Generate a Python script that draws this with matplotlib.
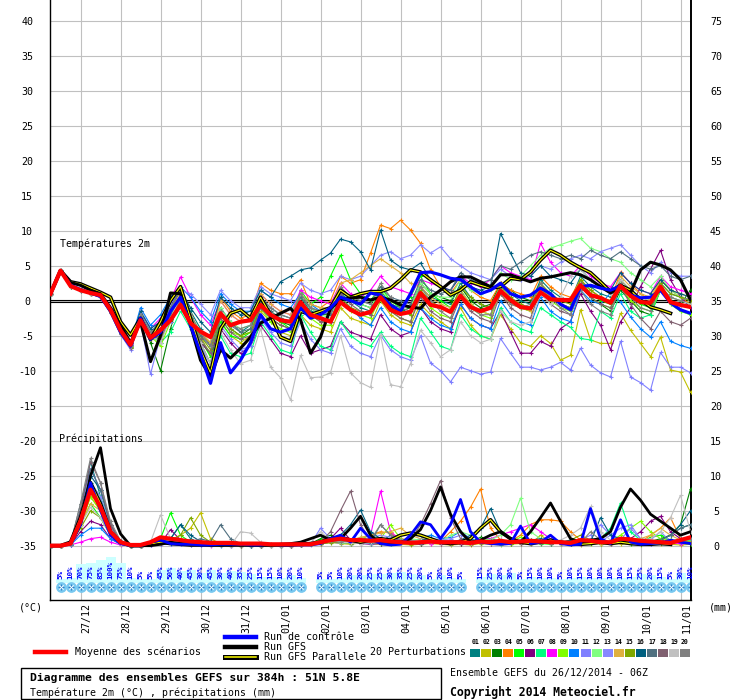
import matplotlib
matplotlib.use('Agg')
import matplotlib.pyplot as plt
import matplotlib.transforms as mtrans
from matplotlib.patches import Rectangle
from matplotlib.lines import Line2D
import numpy as np

plt.rcParams['font.family'] = ['DejaVu Sans Mono', 'DejaVu Sans']

# 6-hourly steps from 26/12/2014 06Z (0..384h)
steps = np.arange(65)
day_idx = [3 + 4 * k for k in range(16)]
day_labels = ['27/12', '28/12', '29/12', '30/12', '31/12', '01/01', '02/01', '03/01',
              '04/01', '05/01', '06/01', '07/01', '08/01', '09/01', '10/01', '11/01']

# snow probability (%) for steps 1..64
snow_pct = [5, 10, 70, 75, 85, 100, 75, 10, 5, 5, 45, 50, 40, 45, 30, 45,
            30, 40, 35, 25, 15, 15, 10, 20, 10, 0, 5, 5, 10, 20, 20, 25,
            25, 30, 35, 25, 20, 5, 20, 10, 5, 0, 15, 25, 20, 30, 5, 15,
            10, 10, 5, 10, 15, 10, 10, 10, 10, 15, 25, 20, 15, 5, 30, 10]

pert_names = ['01', '02', '03', '04', '05', '06', '07', '08', '09', '10',
              '11', '12', '13', '14', '15', '16', '17', '18', '19', '20']
pert_colors = ['#008080', '#c0c000', '#008000', '#ff8000', '#00ff00', '#800080', '#00ff80',
               '#ff00ff', '#80ff00', '#0080ff', '#8080ff', '#80ff80', '#8888ff', '#e0b040',
               '#80a800', '#006080', '#507080', '#806070', '#c0c0c0', '#808080']

# temperature 2m (degC)
mean_t = [1.0, 4.3, 2.1, 1.5, 1.1, 0.8, -1.3, -4.2, -6.3,
          -2.8, -5.3, -4.2, -2.8, -0.6, -3.2, -4.4, -5.2,
          -1.8, -3.5, -3.0, -2.8, -0.6, -2.0, -2.8, -3.0,
          -0.2, -2.0, -2.5, -3.0, -0.2, -1.3, -2.0, -1.6,
          0.5, -1.3, -1.9, -1.6, 1.1, -0.6, -0.9, -1.6,
          0.7, -0.9, -1.5, -1.0, 1.4, 0.1, -0.9, -1.1,
          1.2, 0.2, 0.1, 0.1, 2.2, 0.8, 0.4, -0.3,
          2.1, 0.7, -0.2, -0.3, 2.0, -0.2, -0.6, -0.9]
ctrl_t = [1.0, 4.3, 2.2, 1.6, 1.1, 0.6, -1.5, -4.5, -6.5,
          -2.5, -5.5, -4.5, -1.5, 0.5, -3.5, -7.5, -11.8,
          -6.0, -10.3, -8.5, -6.0, -2.0, -4.0, -4.5, -4.0,
          -1.0, -2.5, -2.0, -1.0, 0.5, 0.0, -0.5, 1.1,
          0.8, -0.6, -1.5, 1.0, 4.0, 4.1, 3.7, 3.2,
          3.0, 2.0, 1.0, 1.5, 2.5, 1.0, 0.5, 0.8,
          1.8, 1.0, -0.5, -1.3, 2.0, 2.2, 1.8, 1.5,
          2.1, 0.8, 0.4, 0.5, 1.5, -0.3, -1.3, -1.8]
gfs_t = [1.0, 4.3, 2.6, 2.2, 1.5, 1.0, -1.0, -3.5, -6.0,
         -3.0, -8.7, -5.0, 1.1, 1.0, -3.5, -8.5, -10.9,
         -7.0, -8.2, -6.8, -5.2, -3.2, -2.5, -1.8, -1.1,
         -2.7, -7.5, -5.2, -1.1, 0.1, 0.4, 0.5, 0.1,
         0.5, 0.1, -0.6, -0.9, -1.1, 0.5, 1.5, 2.7,
         3.4, 3.4, 2.7, 2.0, 3.7, 3.7, 3.2, 2.7,
         3.2, 3.4, 3.7, 4.0, 3.7, 3.0, 2.0, 1.1,
         2.0, 1.1, 4.4, 5.5, 5.1, 4.4, 3.0, 0.1]
gfsp_t = [1.0, 4.3, 2.7, 2.4, 1.8, 1.2, 0.5, -3.0, -4.9,
          -2.5, -5.5, -3.0, 0.0, 2.0, -2.5, -7.0, -10.3,
          -4.0, -1.8, -1.3, -2.5, 0.5, -2.0, -5.2, -5.8,
          -1.5, -2.0, -1.5, -1.0, 1.5, 0.5, 1.0, 1.3,
          1.3, 1.8, 3.0, 4.4, 4.1, 3.0, 2.0, 0.8,
          1.5, 2.7, 2.2, 1.8, 2.0, 3.2, 3.0, 4.1,
          5.8, 7.2, 6.5, 5.5, 4.7, 4.0, 2.7, 1.3,
          2.2, 1.5, 0.1, -0.9, -1.3, -1.8, np.nan, np.nan]

t01 = [1.0, 4.4, 2.3, 1.6, 1.2, 0.8, -1.2, -4.0, -6.2,
       -2.0, -4.5, -3.0, -1.0, 1.5, -1.5, -4.0, -6.5,
       -1.0, -3.0, -4.5, -3.5, 0.5, -1.0, -2.0, -2.5,
       0.5, -1.5, -2.5, -3.0, 1.0, 0.0, -1.0, -1.5,
       1.5, -0.5, -1.0, -2.0, 2.0, 0.5, 0.0, -0.5,
       2.5, 0.5, -0.5, -1.0, 2.0, 1.0, 0.0, -0.5,
       3.0, 1.5, 0.5, 0.0, 3.5, 2.0, 1.0, 0.5,
       3.0, 1.5, 0.0, -0.5, 2.5, 1.0, 0.5, 0.0]
t02 = [1.0, 4.2, 2.0, 1.4, 1.0, 0.5, -1.8, -4.8, -6.8,
       -3.0, -5.5, -4.0, -2.5, 0.5, -2.0, -5.0, -8.0,
       -3.0, -5.0, -6.0, -5.0, -1.5, -3.0, -4.5, -5.0,
       -2.0, -3.5, -4.0, -4.5, -1.0, -2.5, -3.0, -3.5,
       0.0, -2.0, -3.0, -3.5, -0.5, -2.0, -3.0, -4.0,
       -1.0, -3.5, -5.0, -5.5, -2.0, -4.0, -6.0, -6.5,
       -5.0, -6.1, -8.5, -7.8, -1.3, -5.6, -6.1, -6.1,
       -1.8, -4.2, -6.1, -8.0, -5.2, -9.9, -10.2, -13.1]
t03 = [1.0, 4.3, 2.2, 1.5, 1.0, 0.6, -1.5, -4.4, -6.5,
       -2.5, -6.0, -10.0, -4.0, 1.0, -3.0, -6.0, -9.0,
       -2.0, -4.0, -5.0, -4.0, 0.0, -2.0, -3.0, -3.5,
       0.5, -1.0, -2.0, -2.0, 1.5, 0.5, -0.5, -1.0,
       1.0, -1.0, -1.5, -1.0, 2.5, 1.0, 0.5, 0.0,
       2.0, 0.0, -1.0, -0.5, 2.5, 1.5, 0.5, 0.0,
       2.5, 0.5, -0.5, -1.0, 2.0, 0.5, -0.5, -1.5,
       1.5, 0.0, -1.5, -2.0, 1.5, 0.0, -0.5, 1.5]
t04 = [1.0, 4.3, 2.1, 1.6, 1.2, 0.7, -1.2, -4.2, -6.0,
       -2.0, -4.5, -3.5, -1.5, 1.5, -2.5, -5.0, -6.0,
       0.5, -1.5, -2.5, -2.0, 2.5, 1.5, 1.0, 1.0,
       3.0, -0.5, -1.0, 0.0, 3.5, 2.5, 3.0, 6.8,
       10.8, 10.3, 11.5, 10.1, 8.2, 4.4, 2.0, 1.0,
       3.0, 1.5, 0.5, 0.0, 2.5, 1.5, 1.0, 0.5,
       3.5, 2.0, 1.0, 0.5, 3.0, 1.5, 0.5, 0.0,
       4.1, 2.5, 1.0, 0.0, 3.0, 1.5, 0.5, -0.5]
t05 = [1.0, 4.3, 2.0, 1.5, 1.1, 0.6, -1.6, -4.6, -6.6,
       -2.5, -5.0, -6.0, -2.0, 0.5, -2.5, -5.5, -8.0,
       -3.0, -5.0, -5.5, -4.5, -0.5, -2.0, -3.0, -4.0,
       1.5, -0.5, 0.5, 3.5, 6.5, 3.0, 1.0, 0.0,
       2.0, 0.0, -1.0, 0.5, 3.5, 1.0, 0.0, -1.0,
       1.5, -0.5, -1.5, -2.0, 1.0, 0.0, -1.0, -1.5,
       2.0, 0.5, -0.5, -1.0, 3.0, 1.0, 0.0, -0.5,
       2.5, 0.5, -0.5, -1.0, 2.0, 0.5, 0.0, -0.5]
t06 = [1.0, 4.3, 2.2, 1.5, 1.0, 0.5, -1.5, -4.5, -6.5,
       -3.0, -5.5, -5.0, -3.0, -0.5, -3.5, -6.0, -7.5,
       -4.0, -6.0, -7.5, -6.5, -3.5, -5.5, -7.5, -8.0,
       -5.0, -7.5, -7.0, -6.5, -3.0, -4.5, -5.0, -5.5,
       -2.0, -4.0, -5.0, -4.5, -1.0, -3.0, -4.0, -4.5,
       -0.5, -2.5, -3.5, -4.0, -1.5, -4.5, -7.5, -7.5,
       -5.8, -6.5, -4.0, -3.0, 1.0, -1.5, -3.5, -7.0,
       -3.0, -1.0, 2.0, 4.5, 7.2, 3.0, 0.5, -1.0]
t07 = [1.0, 4.3, 2.0, 1.4, 1.0, 0.6, -1.4, -4.3, -6.4,
       -1.5, -4.0, -6.0, -4.5, -1.5, -4.0, -7.0, -10.0,
       -5.0, -7.5, -8.0, -7.5, -3.0, -5.0, -7.0, -7.5,
       -2.0, -4.5, -6.5, -7.0, -3.0, -5.0, -6.0, -6.5,
       -4.5, -6.5, -7.5, -8.0, -2.5, -4.5, -6.5, -7.0,
       -2.0, -4.0, -5.0, -5.5, -1.0, -3.0, -4.0, -4.5,
       -1.0, -2.0, -3.0, -3.8, -5.4, -5.6, -1.5, -2.5,
       1.0, -1.5, -2.5, -2.0, 1.5, -0.5, -1.5, -2.0]
t08 = [1.0, 4.3, 2.1, 1.5, 1.1, 0.7, -1.3, -4.2, -6.2,
       -1.5, -4.0, -2.5, 0.0, 3.4, 0.5, -2.0, -3.5,
       0.0, -2.0, -3.0, -2.5, 1.0, -0.5, -1.5, -2.0,
       1.5, 0.5, 0.0, -0.5, 2.5, 1.0, 0.5, 1.5,
       3.5, 2.0, 1.5, 1.0, 3.0, 2.5, 2.0, 1.5,
       3.5, 2.5, 2.0, 3.0, 5.0, 4.0, 3.5, 3.0,
       8.2, 5.5, 4.0, 3.5, 5.0, 3.5, 2.5, 2.0,
       4.0, 2.5, 1.5, 1.0, 3.5, 2.0, 1.5, 1.0]
t09 = [1.0, 4.3, 2.0, 1.5, 1.0, 0.5, -1.6, -4.6, -6.8,
       -2.0, -5.0, -6.5, -3.0, 0.0, -3.0, -5.5, -7.5,
       -2.5, -4.5, -5.0, -4.5, -1.0, -3.0, -4.0, -4.5,
       -1.0, -2.5, -3.5, -3.5, 0.0, -1.5, -2.0, -2.5,
       0.5, -1.5, -2.5, -3.0, 1.0, -1.0, -2.0, -2.5,
       1.0, -1.0, -2.0, -2.5, 1.5, 0.0, -1.0, -1.5,
       2.0, 0.0, -1.0, -1.5, 2.5, 0.5, -0.5, -1.0,
       2.0, 0.0, -1.0, -1.5, 1.5, -0.5, -1.5, -2.0]
t10 = [1.0, 4.3, 2.2, 1.6, 1.2, 0.7, -1.2, -4.0, -6.0,
       -1.0, -3.5, -2.0, 0.5, 2.0, 0.5, -1.5, -3.0,
       1.0, -0.5, -1.5, -1.5, 1.5, 0.5, -0.5, -1.0,
       1.0, -0.5, -1.5, -2.0, 0.5, -1.0, -2.5, -3.5,
       -1.0, -3.0, -4.0, -4.5, -1.0, -2.5, -3.5, -4.0,
       -0.5, -2.5, -3.5, -4.0, 0.0, -2.0, -3.0, -3.5,
       0.5, -1.5, -2.5, -3.0, 1.5, 0.0, -0.5, 1.1,
       -0.2, -2.3, -4.0, -5.2, -3.0, -5.8, -6.4, -6.8]
t11 = [1.0, 4.3, 2.0, 1.4, 1.0, 0.5, -1.8, -4.8, -7.0,
       -3.0, -10.5, -5.0, -3.0, -1.0, -3.5, -6.5, -9.0,
       -3.5, -5.5, -7.0, -6.5, -2.5, -4.5, -6.0, -6.5,
       -3.0, -5.5, -7.0, -7.5, -4.0, -6.5, -7.5, -8.0,
       -4.9, -7.0, -8.0, -8.5, -5.0, -8.9, -10.0, -11.6,
       -9.5, -10.0, -10.5, -10.2, -5.4, -7.5, -9.5, -9.5,
       -9.9, -9.5, -8.8, -9.9, -6.8, -9.2, -10.3, -10.9,
       -5.8, -10.9, -11.7, -12.8, -7.4, -9.5, -9.5, -10.3]
t12 = [1.0, 4.3, 2.1, 1.5, 1.1, 0.6, -1.4, -4.4, -6.4,
       -2.0, -4.5, -4.0, -1.5, 1.0, -2.0, -4.5, -6.0,
       -1.0, -3.0, -4.0, -3.5, 0.0, -1.5, -2.5, -3.0,
       0.5, -1.0, -2.0, -2.5, 1.5, 0.0, -0.5, -1.0,
       1.5, 0.0, -0.5, -1.0, 2.5, 1.0, 0.5, 0.5,
       3.0, 1.5, 1.0, 1.5, 4.0, 3.0, 3.5, 5.0,
       6.5, 7.5, 8.0, 8.5, 8.9, 7.5, 7.0, 6.0,
       5.5, 4.0, 3.0, 2.0, 3.5, 1.5, 0.5, 0.0]
t13 = [1.0, 4.3, 2.2, 1.6, 1.1, 0.6, -1.3, -4.2, -6.3,
       -1.5, -4.0, -3.0, -0.5, 1.5, 1.0, -0.5, -2.0,
       1.5, 0.0, -1.0, -1.0, 2.0, 1.0, 0.5, 0.0,
       2.5, 1.5, 1.0, 1.5, 3.5, 3.0, 3.5, 5.0,
       6.5, 7.0, 6.0, 6.5, 8.0, 6.8, 7.7, 6.0,
       5.0, 4.0, 3.5, 3.0, 4.5, 3.5, 3.0, 3.5,
       5.0, 4.5, 5.5, 6.0, 6.5, 6.0, 7.0, 7.5,
       8.0, 6.5, 5.0, 4.0, 5.5, 4.0, 3.5, 3.5]
t14 = [1.0, 4.3, 2.1, 1.5, 1.0, 0.6, -1.5, -4.5, -6.5,
       -2.0, -4.5, -4.0, -1.5, 1.0, -2.0, -4.5, -6.0,
       0.0, -2.0, -3.0, -2.5, 1.0, -0.5, -1.5, -2.0,
       1.0, -0.5, -1.0, -1.0, 2.5, 3.0, 4.0, 5.0,
       6.0, 5.0, 4.0, 2.5, 2.0, 0.5, -0.5, -1.0,
       1.5, -0.5, -1.5, -2.0, 1.0, -0.5, -1.0, -1.5,
       2.0, 0.5, -0.5, -1.0, 3.0, 1.5, 0.5, 0.0,
       3.5, 2.0, 1.0, 0.5, 3.0, 1.5, 1.0, 0.5]
t15 = [1.0, 4.3, 2.0, 1.5, 1.0, 0.5, -1.6, -4.6, -6.6,
       -2.5, -5.5, -5.0, -2.0, 0.5, -2.5, -5.0, -7.0,
       -2.0, -4.0, -5.0, -4.5, -1.0, -2.5, -3.5, -4.0,
       -0.5, -2.0, -3.0, -3.0, 0.5, -1.0, -1.5, -2.0,
       1.0, -0.5, -1.5, -2.0, 1.5, 0.0, -1.0, -1.5,
       2.0, 0.5, -0.5, -1.0, 2.0, 0.5, -0.5, -1.0,
       2.5, 1.0, 0.0, -0.5, 3.0, 1.5, 0.5, 0.0,
       3.0, 1.5, 0.5, 0.0, 2.5, 1.0, 0.5, 0.0]
t16 = [1.0, 4.3, 2.2, 1.6, 1.2, 0.7, -1.2, -4.0, -6.0,
       -1.5, -4.0, -3.0, -1.0, 1.5, -1.0, -3.0, -4.5,
       0.5, -1.0, -2.0, -1.5, 1.5, 0.5, 2.7, 3.5,
       4.4, 4.7, 5.8, 6.8, 8.8, 8.4, 7.0, 4.4,
       10.1, 5.8, 4.8, 4.4, 5.4, 3.0, 2.0, 1.5,
       3.5, 2.0, 1.5, 2.0, 9.6, 6.8, 4.0, 3.5,
       5.0, 3.5, 3.0, 2.5, 4.5, 3.0, 2.0, 1.5,
       4.0, 2.5, 1.5, 1.0, 3.0, 1.5, 1.0, 0.5]
t17 = [1.0, 4.3, 2.1, 1.5, 1.1, 0.6, -1.4, -4.4, -6.4,
       -2.0, -4.5, -4.5, -2.0, 0.5, -2.5, -5.0, -6.5,
       -1.5, -3.5, -4.5, -4.0, 0.0, -1.5, -2.5, -3.0,
       0.5, -1.0, -1.5, -2.0, 1.5, 0.5, 0.0, -0.5,
       2.0, 0.5, 0.0, -0.5, 3.0, 1.5, 1.0, 1.5,
       4.0, 3.0, 2.5, 3.0, 5.0, 4.5, 5.5, 6.5,
       7.0, 6.5, 6.0, 6.5, 6.0, 7.2, 6.5, 6.0,
       7.0, 6.0, 5.0, 4.5, 5.0, 3.5, 3.0, 3.5]
t18 = [1.0, 4.3, 2.0, 1.4, 1.0, 0.5, -1.7, -4.7, -6.7,
       -2.5, -5.0, -5.5, -2.5, 0.0, -3.0, -5.5, -7.5,
       -2.5, -4.5, -5.5, -5.0, -1.0, -2.5, -3.5, -4.0,
       -0.5, -2.0, -3.0, -3.0, 1.0, -0.5, -1.5, -2.0,
       0.5, -1.5, -2.5, -3.0, 0.5, -1.5, -2.5, -3.0,
       0.5, -1.5, -2.5, -3.0, 1.0, -1.0, -2.0, -2.5,
       1.5, -0.5, -1.5, -2.0, 2.5, 0.5, -0.5, -1.0,
       2.0, -0.5, -2.5, -4.0, -1.5, -3.0, -3.5, -2.5]
t19 = [1.0, 4.3, 2.1, 1.5, 1.0, 0.6, -1.5, -4.5, -6.5,
       -2.0, -5.0, -6.0, -2.5, 0.5, -3.5, -6.0, -9.0,
       -4.5, -7.0, -9.0, -8.5, -4.0, -9.5, -11.0, -14.2,
       -7.8, -11.0, -10.9, -10.3, -5.0, -10.3, -11.7, -12.4,
       -4.9, -12.0, -12.3, -9.0, -4.2, -6.0, -8.0, -7.0,
       -3.0, -5.0, -6.0, -5.5, -1.5, -3.0, -3.5, -3.0,
       1.0, -0.5, 0.5, 3.5, 4.5, 3.0, 2.0, 1.0,
       3.0, 1.5, 0.5, 0.0, 2.0, 0.5, 0.0, -0.5]
t20 = [1.0, 4.3, 2.1, 1.5, 1.1, 0.6, -1.5, -4.5, -6.5,
       -2.0, -4.5, -4.0, -1.0, 1.5, -2.0, -4.5, -6.5,
       -1.5, -3.5, -4.0, -3.5, 0.5, -1.0, -2.0, -2.5,
       1.0, -1.0, -1.5, -1.5, 2.0, 0.5, 0.0, -0.5,
       2.5, 0.5, -1.0, -1.5, 2.0, 0.0, -1.5, -2.5,
       1.0, -1.0, -2.0, -2.0, 1.5, -0.5, -1.0, -0.5,
       2.5, 0.5, -1.0, -2.0, 1.5, -0.5, -1.5, -2.0,
       2.5, 0.5, -1.0, -1.5, 2.0, 0.5, 0.0, 0.5]

# precipitation (mm / 6h)
mean_p = [0, 0, 0.3, 3.5, 8.0, 5.5, 2.0, 0.5, 0.1,
          0.1, 0.5, 1.2, 1.0, 0.8, 0.6, 0.5, 0.4,
          0.4, 0.4, 0.3, 0.3, 0.3, 0.2, 0.2, 0.2,
          0.2, 0.2, 0.5, 0.8, 1.0, 0.8, 0.8, 0.7,
          0.8, 0.6, 0.5, 0.4, 0.5, 0.6, 0.5, 0.5,
          0.5, 0.4, 0.6, 0.5, 0.7, 0.5, 0.6, 0.7,
          0.6, 0.5, 0.5, 0.4, 0.8, 0.7, 0.5, 0.5,
          1.0, 0.9, 0.7, 0.6, 0.5, 0.4, 0.8, 1.2]
ctrl_p = [0, 0, 0.2, 3, 9, 5, 1.5, 0.3, 0,
          0, 0.5, 0.8, 0.3, 0.2, 0.2, 0.1, 0.1,
          0.2, 0.2, 0.2, 0.1, 0.1, 0.2, 0.1, 0.1,
          0.1, 0.1, 0.3, 1.0, 1.5, 0.5, 2.5, 1.0,
          0.3, 0.1, 0.2, 1.5, 3.4, 3.0, 1.0, 3.0,
          6.6, 2.0, 0.5, 0.3, 0.2, 0.3, 2.8, 0.3,
          0.5, 1.5, 0.3, 0.1, 0.2, 5.3, 1.0, 0.3,
          3.7, 0.5, 0.2, 0.3, 0.4, 0.8, 0.5, 0.3]
gfs_p = [0, 0, 0.3, 3, 10, 14, 5.3, 1.7, 0,
         0, 0, 0.2, 0.5, 0.3, 0.2, 0.2, 0.1,
         0.1, 0.1, 0.2, 0.1, 0.1, 0.1, 0.2, 0.3,
         0.5, 1.0, 1.5, 0.8, 1.0, 2.5, 4.2, 1.5,
         0.3, 0.2, 0.5, 1.0, 2.3, 5.0, 8.4, 4.5,
         2.0, 0.5, 0.8, 1.5, 2.0, 1.0, 0.5, 2.0,
         4.0, 6.1, 3.5, 1.0, 0.5, 0.8, 1.0, 2.0,
         5.5, 8.1, 6.5, 4.5, 3.5, 2.5, 1.5, 2.0]
gfsp_p = [0, 0, 0.5, 4, 9, 6, 2, 0.5, 0,
          0, 0.2, 0.5, 0.3, 0.2, 0.1, 0.1, 0.1,
          0.1, 0.1, 0.1, 0.1, 0.1, 0.1, 0.1, 0.1,
          0.2, 0.3, 0.5, 1.0, 1.2, 0.8, 0.5, 0.8,
          1.0, 0.8, 1.5, 1.8, 1.5, 1.0, 0.5, 0.3,
          0.5, 1.0, 2.5, 3.7, 2.0, 1.0, 0.5, 0.3,
          0.5, 0.8, 0.5, 0.3, 0.2, 0.3, 0.5, 0.3,
          0.5, 0.3, 0.2, 0.2, 0.3, 0.2, np.nan, np.nan]

p01 = [0, 0, 0.3, 5, 12, 7, 2, 0.5, 0,
       0, 0.3, 0.5, 1.0, 3.0, 1.0, 0.3, 0.2,
       0.1, 0.1, 0.2, 0.1, 0, 0.1, 0.2, 0.1,
       0.2, 0.3, 0.5, 1.0, 0.6, 0.4, 1.2, 0.8,
       0.5, 1.5, 0.6, 0.3, 0.4, 0.8, 0.5, 0.3,
       0.5, 0.4, 0.8, 1.0, 0.6, 0.3, 0.5, 0.6,
       0.4, 0.3, 0.5, 0.3, 0.2, 0.4, 0.6, 0.3,
       0.5, 0.4, 0.3, 0.5, 0.8, 1.5, 2.5, 3.0]
p02 = [0, 0, 0.2, 3, 7, 5, 1.5, 0.3, 0,
       0, 0.2, 0.4, 0.8, 1.5, 2.5, 4.7, 1.0,
       0.3, 0.1, 0.1, 0, 0, 0.1, 0.1, 0,
       0.1, 0.2, 0.3, 0.5, 0.3, 0.2, 0.4, 0.3,
       0.2, 0.3, 0.2, 0.1, 0.2, 0.3, 0.2, 0.1,
       0.2, 0.1, 0.3, 0.2, 0.1, 0.2, 0.3, 0.2,
       1.5, 0.5, 0.3, 0.2, 0.1, 0.2, 0.3, 0.2,
       0.3, 0.2, 0.1, 0.2, 0.3, 0.2, 0.1, 0.2]
p03 = [0, 0, 0.2, 4, 9, 6, 2, 0.4, 0,
       0, 0.2, 0.6, 1.0, 0.5, 0.3, 0.2, 0.1,
       0.1, 0.2, 0.1, 0, 0.1, 0.1, 0, 0.1,
       0.2, 0.3, 1.0, 1.5, 0.8, 0.5, 0.6, 0.4,
       0.3, 0.5, 0.8, 0.4, 0.3, 0.5, 0.6, 0.4,
       0.3, 0.5, 1.2, 0.6, 0.4, 0.8, 0.5, 0.3,
       0.4, 0.6, 0.3, 0.5, 0.8, 0.4, 0.3, 0.5,
       1.0, 0.5, 0.3, 0.6, 1.0, 1.5, 3.0, 8.1]
p04 = [0, 0, 0.3, 4, 8, 5, 1.5, 0.3, 0,
       0, 0.2, 0.5, 0.4, 0.3, 0.6, 0.2, 0.1,
       0.2, 0.1, 0.1, 0, 0.1, 0.2, 0.1, 0,
       0.1, 0.2, 0.4, 0.8, 0.5, 0.3, 1.0, 1.5,
       2.0, 1.8, 1.0, 0.8, 0.5, 0.8, 0.6, 2.0,
       3.5, 5.5, 8.1, 2.5, 0.8, 0.6, 1.5, 3.0,
       3.7, 3.7, 3.5, 2.0, 0.8, 0.5, 0.3, 0.5,
       0.8, 0.6, 0.5, 1.5, 2.5, 4.0, 1.0, 0.5]
p05 = [0, 0, 0.2, 3, 6, 4, 1.5, 0.3, 0,
       0, 0.3, 1.0, 4.7, 1.5, 0.5, 0.3, 0.2,
       0.1, 0, 0.1, 0.1, 0, 0.1, 0.1, 0,
       0.1, 0.2, 0.8, 0.5, 1.5, 0.6, 0.4, 0.3,
       0.5, 1.0, 0.5, 0.4, 0.3, 0.6, 0.4, 0.2,
       0.3, 0.5, 0.4, 0.8, 0.3, 0.2, 0.5, 0.4,
       0.3, 0.2, 0.5, 0.3, 0.8, 0.4, 0.3, 0.2,
       0.5, 0.3, 0.4, 1.2, 1.5, 0.8, 0.5, 0.3]
p06 = [0, 0, 0.1, 2, 3.5, 3, 1, 0.2, 0,
       0, 0.1, 0.3, 2.3, 0.8, 0.6, 0.5, 0.3,
       0.2, 0.1, 0, 0.1, 0, 0.1, 0, 0.1,
       0.1, 0.2, 0.5, 1.0, 2.5, 0.8, 0.3, 0.2,
       0.3, 0.4, 0.5, 0.3, 0.2, 0.4, 0.3, 0.2,
       0.3, 0.2, 0.4, 0.3, 0.5, 0.6, 0.4, 0.3,
       0.5, 0.4, 0.3, 0.2, 0.3, 0.5, 0.4, 0.6,
       0.8, 1.0, 2.0, 3.5, 4.2, 2.0, 1.0, 0.5]
p07 = [0, 0, 0.2, 4, 9, 7, 2.5, 0.5, 0,
       0, 0.2, 0.5, 0.8, 0.5, 0.3, 0.2, 0.1,
       0.1, 0.1, 0, 0.1, 0.1, 0, 0.1, 0.1,
       0.2, 0.3, 0.5, 0.8, 0.5, 0.4, 0.6, 0.5,
       0.4, 0.3, 0.5, 0.6, 0.4, 0.5, 0.8, 0.6,
       0.5, 0.4, 0.6, 0.5, 0.3, 0.4, 0.6, 0.5,
       0.4, 0.3, 0.5, 0.4, 0.6, 0.5, 1.0, 2.5,
       6.1, 2.0, 0.8, 0.5, 0.4, 0.6, 0.5, 0.8]
p08 = [0, 0, 0.1, 0.5, 1.0, 1.2, 0.5, 0.1, 0,
       0, 0.1, 0.2, 0.3, 0.2, 0.1, 0.1, 0,
       0.1, 0, 0, 0.1, 0, 0, 0.1, 0,
       0.1, 0.2, 0.3, 0.5, 0.4, 0.6, 1.0, 1.5,
       7.8, 2.0, 0.8, 0.5, 0.4, 0.3, 0.5, 0.8,
       0.6, 0.4, 0.8, 1.0, 1.5, 2.0, 2.5, 3.0,
       2.0, 1.0, 0.5, 0.4, 0.3, 0.5, 0.4, 0.3,
       0.5, 0.6, 0.4, 0.3, 0.5, 0.4, 0.3, 0.5]
p09 = [0, 0, 0.2, 3, 7, 5, 1.5, 0.3, 0,
       0, 0.2, 0.5, 0.8, 1.0, 0.6, 0.3, 0.2,
       0.1, 0.1, 0.1, 0, 0.1, 0, 0.1, 0.1,
       0.1, 0.2, 0.4, 0.6, 0.5, 0.8, 1.0, 1.5,
       1.0, 3.0, 1.0, 0.5, 0.6, 0.8, 0.5, 0.4,
       0.6, 0.5, 0.4, 0.8, 0.6, 0.5, 1.2, 0.8,
       0.5, 0.4, 0.6, 0.5, 0.8, 0.6, 0.5, 0.6,
       1.5, 2.5, 3.5, 2.0, 1.0, 0.8, 0.6, 0.5]
p10 = [0, 0, 0.1, 1.5, 2.5, 2.5, 1, 0.2, 0,
       0, 0.1, 0.2, 0.3, 0.2, 0.1, 0.1, 0.1,
       0, 0.1, 0, 0, 0.1, 0, 0, 0.1,
       0.1, 0.2, 0.3, 0.5, 0.4, 0.3, 0.5, 0.6,
       0.8, 0.5, 0.4, 0.6, 1.0, 1.5, 1.0, 1.2,
       2.0, 1.0, 0.5, 0.4, 0.6, 0.5, 0.8, 0.6,
       0.4, 0.5, 0.3, 0.4, 0.6, 0.8, 0.5, 0.4,
       0.6, 0.5, 0.4, 0.3, 0.5, 0.6, 0.5, 0.4]
p11 = [0, 0, 0.3, 5, 11, 8, 3, 0.5, 0,
       0, 0.2, 0.4, 0.5, 0.3, 0.2, 0.1, 0.1,
       0.1, 0, 0.1, 0, 0, 0.1, 0, 0,
       0.1, 0.2, 2.5, 1.0, 0.5, 0.3, 0.4, 0.3,
       0.5, 0.8, 0.6, 0.4, 0.5, 0.6, 0.8, 1.0,
       1.5, 0.8, 0.5, 0.4, 0.3, 0.5, 0.4, 0.6,
       0.5, 0.4, 0.3, 0.5, 0.8, 1.5, 3.0, 1.5,
       0.8, 2.5, 1.0, 0.6, 0.5, 0.4, 0.5, 0.6]
p12 = [0, 0, 0.2, 4, 8, 6, 2, 0.4, 0,
       0, 0.2, 0.5, 0.6, 0.4, 0.3, 0.2, 0.1,
       0.1, 0.1, 0, 0.1, 0, 0.1, 0, 0.1,
       0.1, 0.2, 0.4, 0.5, 0.4, 0.3, 0.5, 0.4,
       0.6, 0.5, 0.8, 1.0, 0.8, 0.6, 0.5, 1.5,
       2.0, 1.5, 1.0, 0.8, 1.5, 3.0, 6.8, 2.0,
       1.0, 0.8, 0.6, 0.5, 0.6, 0.8, 0.5, 0.4,
       0.6, 0.8, 1.0, 0.6, 0.5, 0.8, 0.6, 0.5]
p13 = [0, 0, 0.2, 3.5, 9, 7, 2.5, 0.5, 0,
       0, 0.1, 0.3, 0.5, 0.4, 0.3, 0.2, 0.1,
       0.1, 0, 0.1, 0, 0.1, 0, 0.1, 0,
       0.1, 0.1, 0.3, 0.5, 0.6, 0.4, 0.8, 1.0,
       1.5, 1.2, 0.8, 0.6, 0.5, 0.8, 1.0, 0.6,
       0.8, 0.5, 0.4, 0.6, 0.8, 0.5, 0.4, 0.3,
       0.5, 0.4, 0.6, 0.5, 0.8, 1.0, 0.6, 1.5,
       2.5, 3.0, 1.0, 0.8, 2.0, 0.6, 0.5, 0.4]
p14 = [0, 0, 0.2, 3, 6, 5, 2, 0.4, 0,
       0, 0.2, 0.4, 0.5, 0.8, 0.4, 0.2, 0.1,
       0.1, 0.1, 0, 0.1, 0, 0, 0.1, 0,
       0.1, 0.2, 0.3, 0.5, 0.6, 0.8, 1.2, 1.5,
       1.8, 2.0, 2.5, 1.5, 1.0, 0.8, 0.6, 0.5,
       0.8, 0.6, 0.5, 0.4, 0.6, 0.5, 0.4, 0.3,
       0.4, 0.5, 0.3, 0.6, 0.4, 0.5, 0.3, 0.4,
       0.5, 0.8, 1.0, 1.5, 2.5, 1.5, 0.8, 0.6]
p15 = [0, 0, 0.2, 2.5, 5, 4, 1.5, 0.3, 0,
       0, 0.2, 0.5, 0.8, 1.5, 4.0, 1.5, 0.5,
       0.2, 0.1, 0, 0.1, 0, 0.1, 0, 0.1,
       0.1, 0.2, 0.3, 0.4, 0.5, 0.3, 0.4, 0.5,
       0.4, 0.6, 0.5, 0.3, 0.4, 0.5, 0.6, 0.4,
       0.5, 0.6, 0.4, 0.5, 0.4, 0.3, 0.5, 0.4,
       0.6, 0.5, 0.4, 0.8, 1.5, 0.8, 0.5, 0.4,
       0.6, 0.5, 0.4, 0.6, 0.5, 0.8, 0.6, 0.5]
p16 = [0, 0, 0.3, 5, 10, 8, 3, 0.6, 0,
       0, 0.2, 0.5, 1.0, 3.0, 1.5, 0.6, 0.3,
       0.2, 0.1, 0.1, 0, 0.1, 0.1, 0, 0.1,
       0.1, 0.2, 0.4, 1.0, 1.5, 3.0, 5.1, 2.0,
       1.0, 0.8, 0.6, 0.5, 0.8, 1.0, 0.6, 0.5,
       0.8, 1.5, 2.5, 5.3, 2.0, 1.0, 0.6, 0.8,
       1.0, 0.6, 0.5, 0.8, 0.6, 0.5, 4.0, 1.5,
       1.0, 0.8, 0.5, 0.6, 0.8, 1.5, 3.0, 5.0]
p17 = [0, 0, 0.3, 6, 11, 8, 3, 0.5, 0,
       0, 0.3, 0.5, 0.8, 0.6, 0.5, 1.0, 0.6,
       3.0, 1.0, 0.3, 0.1, 0, 0.1, 0.1, 0,
       0.1, 0.3, 0.5, 1.0, 0.8, 0.6, 0.5, 0.4,
       3.0, 1.5, 0.6, 0.5, 0.4, 0.6, 0.5, 0.4,
       0.6, 0.5, 0.8, 0.6, 0.5, 0.4, 0.6, 0.5,
       0.4, 0.5, 0.6, 0.4, 0.5, 0.8, 0.6, 0.5,
       0.6, 0.8, 0.6, 0.5, 0.8, 1.5, 2.5, 3.0]
p18 = [0, 0, 0.3, 5, 12, 9, 3, 0.6, 0,
       0, 0.2, 0.4, 0.5, 0.4, 0.3, 0.2, 0.1,
       0.1, 0.1, 0, 0.1, 0, 0.1, 0, 0,
       0.1, 0.2, 0.5, 2.0, 5.0, 7.8, 3.0, 0.8,
       0.5, 0.4, 0.6, 0.8, 3.0, 6.0, 9.3, 4.0,
       1.0, 0.5, 0.4, 0.6, 0.5, 0.4, 0.3, 0.5,
       0.4, 0.3, 0.5, 0.4, 0.3, 0.5, 0.6, 0.4,
       0.5, 0.4, 0.6, 0.5, 0.4, 0.6, 0.5, 0.4]
p19 = [0, 0, 0.2, 3, 5.5, 4, 1.5, 0.3, 0,
       0, 0.5, 4.4, 1.0, 0.5, 0.3, 0.2, 0.1,
       0.1, 0, 2.0, 1.8, 0.5, 0, 0, 0.1,
       0.2, 0.4, 2.0, 0.8, 0.5, 0.4, 0.3, 0.5,
       0.6, 0.5, 0.4, 0.6, 0.8, 0.5, 0.4, 0.3,
       0.5, 0.4, 0.6, 0.5, 0.8, 0.6, 0.5, 0.4,
       0.6, 0.5, 0.8, 1.5, 2.5, 5.6, 2.0, 0.8,
       0.6, 0.5, 0.8, 1.0, 2.0, 4.0, 7.2, 2.0]
p20 = [0, 0, 0.3, 6, 12.5, 9, 3.5, 0.7, 0,
       0, 0.2, 0.5, 0.8, 0.6, 0.4, 0.3, 0.2,
       0.1, 0.1, 0.2, 0.1, 0, 0.1, 0.1, 0,
       0.1, 0.2, 0.4, 0.6, 0.5, 0.8, 1.0, 0.8,
       3.0, 1.5, 0.8, 0.6, 0.5, 0.6, 0.5, 0.4,
       0.5, 0.6, 0.8, 0.5, 0.4, 0.6, 0.5, 0.4,
       0.5, 0.4, 0.6, 0.5, 0.4, 2.0, 0.8, 0.5,
       0.6, 0.5, 0.4, 0.5, 0.6, 0.5, 0.8, 1.0]

pert_t = [t01, t02, t03, t04, t05, t06, t07, t08, t09, t10,
          t11, t12, t13, t14, t15, t16, t17, t18, t19, t20]
pert_p = [p01, p02, p03, p04, p05, p06, p07, p08, p09, p10,
          p11, p12, p13, p14, p15, p16, p17, p18, p19, p20]

PRECIP_ZERO = -35  # 0 mm sits on the -35 degC line
YLIM = (-42.76, 42.96)

fig = plt.figure(figsize=(7.4, 7.0), dpi=100)
ax = fig.add_axes([50 / 740, 100 / 700, 641 / 740, 600 / 700])
ax.set_xlim(-0.05, 64.05)
ax.set_ylim(*YLIM)

# grid
ax.set_xticks(day_idx)
ax.set_xticklabels(day_labels, rotation=90, fontsize=7.2)
ax.set_yticks(range(-35, 45, 5))
ax.set_yticklabels([str(v) for v in range(-35, 45, 5)], fontsize=7.2)
ax.grid(True, color='#c0c0c0', lw=0.8)
ax.set_axisbelow(True)
ax.tick_params(axis='x', length=0, pad=2)
ax.tick_params(axis='y', length=0, pad=16.5)
for lbl in ax.get_yticklabels():
    lbl.set_horizontalalignment('center')
off = mtrans.ScaledTranslation(6 / 100, 0, fig.dpi_scale_trans)
for lbl in ax.get_xticklabels():
    lbl.set_transform(lbl.get_transform() + off)
ax.spines['top'].set_visible(False)
for s in ['left', 'bottom']:
    ax.spines[s].set_linewidth(1.0)
ax.spines['right'].set_linewidth(1.4)

ax2 = ax.twinx()
ax2.set_ylim(YLIM[0] + 35, YLIM[1] + 35)
ax2.set_yticks(range(0, 80, 5))
ax2.set_yticklabels([str(v) for v in range(0, 80, 5)], fontsize=7.2)
ax2.tick_params(axis='y', length=0, pad=18)
for lbl in ax2.get_yticklabels():
    lbl.set_horizontalalignment('center')
for s in ax2.spines.values():
    s.set_visible(False)

# zero line (double)
ax.axhline(0.15, color='black', lw=0.8, zorder=2)
ax.axhline(-0.15, color='black', lw=0.8, zorder=2)

# snow probability strip
pct = np.array(snow_pct)
pct_x = np.arange(1, 65)
has = pct > 0
ax.bar(pct_x[has], (3 + 0.23 * pct[has]) / 7, bottom=-40.33, width=1.0,
       color='#ccffff', linewidth=0, zorder=1.5)
ax.scatter(pct_x[has], np.full(has.sum(), -40.9), s=60, c='#78c8f0', linewidths=0, zorder=2)
ax.scatter(pct_x[has], np.full(has.sum(), -40.9), s=16, marker='+', c='#2f7fc8', linewidths=0.8, zorder=2.1)
ax.scatter(pct_x[has], np.full(has.sum(), -40.9), s=10, marker='x', c='white', linewidths=0.6, zorder=2.2)
for x, p in zip(pct_x[has], pct[has]):
    ax.text(x, -39.8, f'{p}%', rotation=90, ha='center', va='bottom', color='#0000ff',
            fontsize=5.4, fontweight='bold', zorder=3)

# perturbations
for t, p, c in zip(pert_t, pert_p, pert_colors):
    ax.plot(steps, t, color=c, lw=0.8, marker='+', ms=3, mew=0.8, zorder=3)
    ax.plot(steps, np.array(p) + PRECIP_ZERO, color=c, lw=0.8, marker='+', ms=3, mew=0.8, zorder=3)

# GFS parallel, GFS, control, mean
for vals in (gfsp_t, np.array(gfsp_p) + PRECIP_ZERO):
    ax.plot(steps, vals, color='black', lw=2.6, zorder=4)
    ax.plot(steps, vals, color='#ffff00', lw=0.8, zorder=4.1)
ax.plot(steps, gfs_t, color='black', lw=2.2, zorder=5)
ax.plot(steps, np.array(gfs_p) + PRECIP_ZERO, color='black', lw=2.0, zorder=5)
ax.plot(steps, ctrl_t, color='#0000ff', lw=2.3, zorder=6)
ax.plot(steps, np.array(ctrl_p) + PRECIP_ZERO, color='#0000ff', lw=2.0, zorder=6)
ax.plot(steps, mean_t, color='#ff0000', lw=3.0, zorder=7)
ax.plot(steps, np.array(mean_p) + PRECIP_ZERO, color='#ff0000', lw=3.0, zorder=7)

ax.text(0.9, 8.1, 'Températures 2m', fontsize=7.2, va='center', ha='left', zorder=8)
ax.text(0.85, -19.7, 'Précipitations', fontsize=7.2, va='center', ha='left', zorder=8)

# legend / captions overlay in pixel coordinates
ov = fig.add_axes([0, 0, 1, 1])
ov.set_xlim(0, 740)
ov.set_ylim(700, 0)
ov.axis('off')
ov.patch.set_visible(False)

ov.text(31, 607, '(°C)', fontsize=7.2, ha='center', va='center')
ov.text(721, 607, '(mm)', fontsize=7.2, ha='center', va='center')

ov.add_line(Line2D([35, 66], [652, 652], color='#ff0000', lw=3.2))
ov.text(75, 652, 'Moyenne des scénarios', fontsize=7.2, va='center')
ov.add_line(Line2D([225, 256], [637, 637], color='#0000ff', lw=3.2))
ov.text(264, 637, 'Run de contrôle', fontsize=7.2, va='center')
ov.add_line(Line2D([225, 256], [647, 647], color='black', lw=3.2))
ov.text(264, 647, 'Run GFS', fontsize=7.2, va='center')
ov.add_line(Line2D([225, 256], [656.5, 656.5], color='black', lw=3.6))
ov.add_line(Line2D([225, 256], [656.5, 656.5], color='#ffff00', lw=1.1))
ov.text(264, 657, 'Run GFS Parallele', fontsize=7.2, va='center')

ov.text(370, 652, '20 Perturbations', fontsize=7.2, va='center')
for k, (name, c) in enumerate(zip(pert_names, pert_colors)):
    x0 = 470 + 11.05 * k
    ov.add_patch(Rectangle((x0, 649), 10, 7.5, facecolor=c, edgecolor='none'))
    ov.text(x0 + 5, 642.5, name, fontsize=4.7, fontweight='bold', ha='center', va='center')

ov.add_patch(Rectangle((20.5, 667.5), 420, 31, facecolor='none', edgecolor='black', lw=1.0))
ov.text(30, 677.5, 'Diagramme des ensembles GEFS sur 384h : 51N 5.8E',
        fontsize=8.2, fontweight='bold', va='center')
ov.text(30, 692.5, 'Température 2m (°C) , précipitations (mm)', fontsize=7.1, va='center')
ov.text(450, 673, 'Ensemble GEFS du 26/12/2014 - 06Z', fontsize=7.1, va='center')
ov.text(450, 692, 'Copyright 2014 Meteociel.fr', fontsize=8.3, fontweight='bold', va='center')

fig.savefig('out.png', dpi=100)
